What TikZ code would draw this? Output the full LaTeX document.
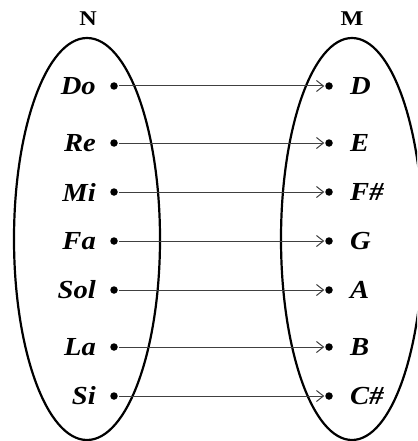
\documentclass[tikz,border=0pt]{standalone}
\usepackage{fontspec}
\setmainfont{Liberation Serif}
\usetikzlibrary{arrows.meta}
\begin{document}
\begin{tikzpicture}[x=1pt,y=-1pt,
  dotnode/.style={circle,fill=black,inner sep=0pt,minimum size=7.5pt,outer sep=1pt},
  lab/.style={inner sep=0pt,font=\fontsize{26}{26}\selectfont\bfseries\itshape},
  setlab/.style={inner sep=0pt,font=\fontsize{21}{21}\selectfont\bfseries},
  maparrow/.style={draw=black!75,line width=1pt,-{Straight Barb[length=7pt,width=11pt,line width=1pt]}},
  setline/.style={draw=black,line width=2.2pt}]
\useasboundingbox (0,0) rectangle (417,441);
\begin{scope}
\clip (0,0) rectangle (417,441);
\draw[setline] (87,239) ellipse [x radius=73, y radius=201];
\draw[setline] (352,239) ellipse [x radius=71, y radius=201];
\end{scope}
\node[setlab] (N) at (88,19) {\scalebox{1.15}[1]{N}};
\node[setlab] (M) at (352,19) {\scalebox{1.15}[1]{M}};
\foreach \n/\l/\r/\y in {1/Do/D/86,2/Re/E/143,3/Mi/F\#/192,4/Fa/G/241,5/Sol/A/290,6/La/B/347,7/Si/C\#/396}{
  \node[dotnode] (a\n) at (114,\y) {};
  \node[dotnode] (b\n) at (329,\y) {};
  \node[lab,anchor=east] (la\n) at (96,\y) {\scalebox{1.1}[1]{\l}};
  \node[lab,anchor=west] (lb\n) at (350,\y) {\scalebox{1.1}[1]{\r}};
  \draw[maparrow] (a\n) -- (b\n);
}
\end{tikzpicture}
\end{document}
